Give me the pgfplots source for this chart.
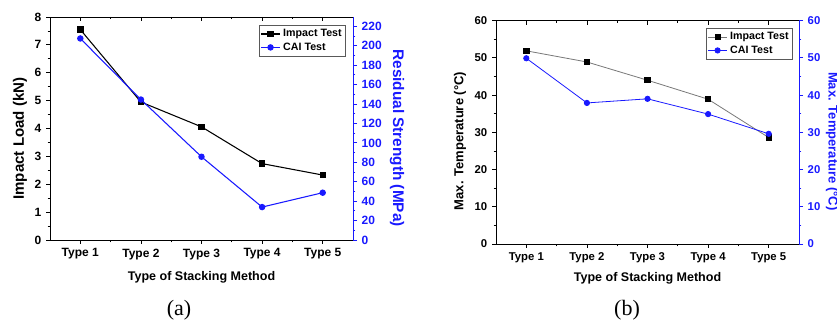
\documentclass[border=0pt]{standalone}
\usepackage{pgfplots}
\pgfplotsset{compat=1.18}
\usepackage{fontspec}
\setmainfont{Liberation Sans}
\newfontfamily\capfont{Liberation Serif}
\definecolor{cblue}{RGB}{25,25,255}
\definecolor{lgray}{RGB}{120,120,120}
\begin{document}
\begin{tikzpicture}
\path[use as bounding box] (0pt,0pt) rectangle (627.75pt,243pt);
\pgfplotsset{
  common/.style={
    scale only axis, width=227.25pt, height=167.25pt,
    anchor=south west,
    xmin=0.5, xmax=5.5, xtick={1,2,3,4,5},
    minor x tick num=1,
    tick align=outside,
    major tick length=3pt, minor tick length=1.8pt,
    /pgf/number format/assume math mode=true,
    axis line style={line width=0.7pt},
    every tick/.style={line width=0.6pt},
    legend image code/.code={\draw[mark repeat=2,mark phase=2] plot coordinates {(0cm,0cm) (0.25cm,0cm) (0.5cm,0cm)};},
  },
  toptick/.style={common, axis x line*=top, axis y line=none, tick align=inside, xticklabels={}, ymin=0, ymax=1, axis line style={-}},
}
%%%%%%%%%%%%%%%% (a)
\begin{axis}[common, at={(37.5pt,63pt)},
  ymin=0, ymax=8, ytick={0,1,...,8}, minor y tick num=1,
  xtick pos=left, ytick pos=left,
  xticklabels={Type 1,Type 2,Type 3,Type 4,Type 5},
  ticklabel style={font=\bfseries\fontsize{9}{10}\selectfont},
  xlabel={Type of Stacking Method},
  xlabel style={font=\bfseries\fontsize{9.4}{11}\selectfont, at={(axis description cs:0.5,-0.166)}, anchor=center},
  ylabel={Impact Load (kN)},
  ylabel style={font=\bfseries\fontsize{11.3}{13}\selectfont, at={(axis description cs:-0.099,0.455)}, anchor=center},
]
\addplot[black, line width=0.8pt, mark=square*, mark size=2pt] coordinates {
(1,7.55) (2,4.95) (3,4.06) (4,2.74) (5,2.33)};
\end{axis}
\begin{axis}[toptick, at={(37.5pt,63pt)}]
\end{axis}
\begin{axis}[common, at={(37.5pt,63pt)},
  axis y line*=right, axis x line=none,
  ymin=0, ymax=229.6, ytick={0,20,...,220}, minor y tick num=1,
  y axis line style={cblue,-},
  ytick style={cblue},
  yticklabel style={cblue, font=\bfseries\fontsize{9}{10}\selectfont},
  ylabel={Residual Strength (MPa)},
  ylabel style={cblue, font=\bfseries\fontsize{11.5}{13}\selectfont, at={(axis description cs:1.145,0.457)}, anchor=center, rotate=180},
  legend style={at={(0.977,0.964)}, anchor=north east, draw=gray!70!black, line width=0.5pt,
    font=\bfseries\fontsize{8}{9}\selectfont, inner sep=1pt, row sep=-1pt, cells={anchor=west}},
]
\addlegendimage{black, line width=0.8pt, mark=square*, mark size=2pt}
\addlegendentry{Impact Test}
\addplot[cblue, line width=0.8pt, mark=*, mark size=2pt] coordinates {
(1,207.5) (2,144.6) (3,85.7) (4,33.9) (5,48.7)};
\addlegendentry{CAI Test}
\end{axis}
%%%%%%%%%%%%%%%% (b)
\begin{axis}[common, at={(372pt,60pt)}, height=167.5pt,
  ymin=0, ymax=60, ytick={0,10,...,60}, minor y tick num=1,
  xtick pos=left, ytick pos=left,
  xticklabels={Type 1,Type 2,Type 3,Type 4,Type 5},
  ticklabel style={font=\bfseries\fontsize{8.5}{10}\selectfont},
  xlabel={Type of Stacking Method},
  xlabel style={font=\bfseries\fontsize{9.4}{11}\selectfont, at={(axis description cs:0.5,-0.152)}, anchor=center},
  ylabel={Max. Temperature (°C)},
  ylabel style={font=\bfseries\fontsize{9.75}{11}\selectfont, at={(axis description cs:-0.119,0.461)}, anchor=center},
]
\addplot[lgray, line width=0.6pt, mark=square*, mark size=2pt, mark options={black, fill=black}] coordinates {
(1,51.9) (2,48.9) (3,44.0) (4,38.9) (5,28.6)};
\end{axis}
\begin{axis}[toptick, at={(372pt,60pt)}, height=167.5pt]
\end{axis}
\begin{axis}[common, at={(372pt,60pt)}, height=167.5pt,
  axis y line*=right, axis x line=none,
  ymin=0, ymax=60, ytick={0,10,...,60}, minor y tick num=1,
  y axis line style={cblue,-},
  ytick style={cblue},
  yticklabel style={cblue, font=\bfseries\fontsize{8.5}{10}\selectfont},
  ylabel={Max. Temperature (°C)},
  ylabel style={cblue, font=\bfseries\fontsize{9.75}{11}\selectfont, at={(axis description cs:1.109,0.46)}, anchor=center, rotate=180},
  legend style={at={(0.980,0.967)}, anchor=north east, draw=gray!70!black, line width=0.5pt,
    font=\bfseries\fontsize{8}{9}\selectfont, inner sep=1pt, row sep=-1pt, cells={anchor=west}},
]
\addlegendimage{lgray, line width=0.6pt, mark=square*, mark size=2pt, mark options={black, fill=black}}
\addlegendentry{Impact Test}
\addplot[cblue, line width=0.6pt, mark=*, mark size=2pt] coordinates {
(1,49.9) (2,37.9) (3,39.0) (4,34.9) (5,29.6)};
\addlegendentry{CAI Test}
\end{axis}
%%%%%%%%%%%%%%%% captions
\node[font=\capfont\fontsize{16.5}{18}\selectfont] at (134.25pt,10.5pt) {(a)};
\node[font=\capfont\fontsize{16.5}{18}\selectfont] at (470.25pt,10.5pt) {(b)};
\end{tikzpicture}
\end{document}
